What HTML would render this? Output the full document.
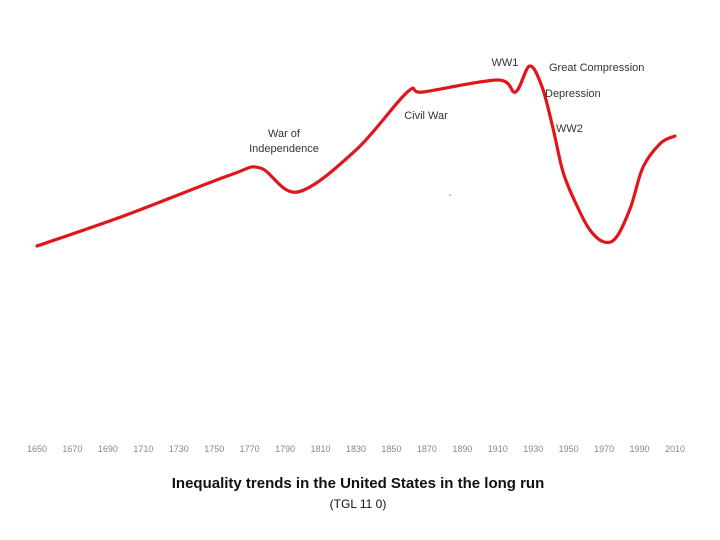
<!DOCTYPE html>
<html><head><meta charset="utf-8"><style>
body{margin:0;background:#fff;}
svg{display:block;font-family:"Liberation Sans",sans-serif;}
</style></head><body>
<svg id="chart" width="720" height="540">
<g id="ticks"></g>
<path id="line" fill="none" stroke="#e0161b" stroke-width="3.2" stroke-linecap="round"/>
<circle cx="450" cy="195" r="0.8" fill="#888"/>
<g font-size="11" fill="#333">
<text x="284" y="137" text-anchor="middle">War of</text>
<text x="284" y="152" text-anchor="middle">Independence</text>
<text x="426" y="119" text-anchor="middle">Civil War</text>
<text x="505" y="66" text-anchor="middle">WW1</text>
<text x="549" y="71">Great Compression</text>
<text x="545" y="97">Depression</text>
<text x="556" y="132">WW2</text>
</g>
<text x="358" y="488" text-anchor="middle" font-size="15" font-weight="bold" fill="#111">Inequality trends in the United States in the long run</text>
<text x="358" y="508" text-anchor="middle" font-size="12" fill="#111">(TGL 11 0)</text>
</svg>
<script>
const tickYears=[1650,1670,1690,1710,1730,1750,1770,1790,1810,1830,1850,1870,1890,1910,1930,1950,1970,1990,2010];
const years=[1650,1700,1759,1776,1797,1830,1859,1868,1910,1920,1928,1935,1941,1947,1955,1962,1970,1977,1985,1992,2002,2010];
const values=[51,58.7,68.75,70.5,64.5,75,89.5,89.5,92.5,89.5,96,90.75,80.75,69.25,60.75,55,52,53.25,60.75,70.75,76.75,78.5];
const xS=y=>37+(y-1650)*638/360;
const yS=v=>450-v*4;
const ns="http://www.w3.org/2000/svg";
const tg=document.getElementById('ticks');
tickYears.forEach(t=>{
  const el=document.createElementNS(ns,'text');
  el.setAttribute('x',xS(t));el.setAttribute('y',452);
  el.setAttribute('text-anchor','middle');el.setAttribute('font-size','9');el.setAttribute('fill','#888');
  el.textContent=t;
  
  
  tg.appendChild(el);
});
const P=years.map((y,i)=>[xS(y),yS(values[i])]);
let d='M'+P[0][0]+','+P[0][1];
for(let i=0;i<P.length-1;i++){
  const p0=P[i-1]||P[i],p1=P[i],p2=P[i+1],p3=P[i+2]||P[i+1];
  const c1=[p1[0]+(p2[0]-p0[0])/6,p1[1]+(p2[1]-p0[1])/6];
  const c2=[p2[0]-(p3[0]-p1[0])/6,p2[1]-(p3[1]-p1[1])/6];
  d+=` C${c1[0]},${c1[1]} ${c2[0]},${c2[1]} ${p2[0]},${p2[1]}`;
}
document.getElementById('line').setAttribute('d',d);
</script>
</body></html>
